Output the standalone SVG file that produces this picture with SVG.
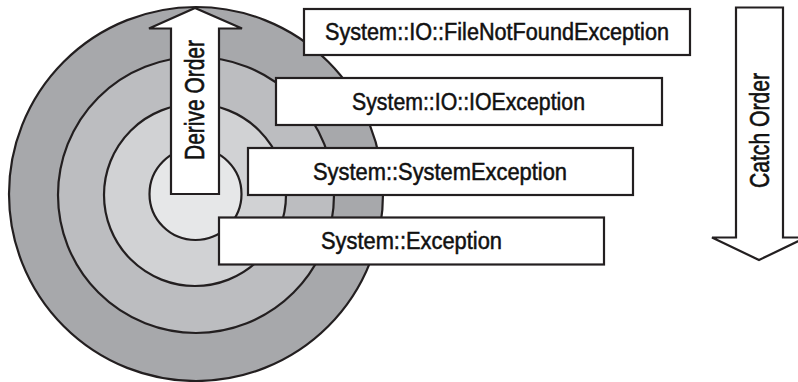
<svg xmlns="http://www.w3.org/2000/svg" width="798" height="382" viewBox="0 0 798 382">
<style>
.ring{stroke:#231f20;stroke-width:2.2}
.box{fill:#fff;stroke:#231f20;stroke-width:2.2}
.arrow{fill:#fff;stroke:#231f20;stroke-width:2.2;stroke-linejoin:miter}
.lbl{font-family:"Liberation Sans",Arial,sans-serif;font-size:23px;fill:#111;stroke:#111;stroke-width:0.5;text-anchor:middle}
.vlbl{font-family:"Liberation Sans",Arial,sans-serif;font-size:27px;fill:#111;stroke:#111;stroke-width:0.6;text-anchor:middle}
</style>
<rect width="798" height="382" fill="#fff"/>
<g id="rings">
<circle class="ring" cx="196" cy="194" r="187" fill="#a7a8ab"/>
<circle class="ring" cx="196" cy="195" r="138" fill="#bcbdc0"/>
<circle class="ring" cx="195" cy="195" r="91" fill="#d1d2d4"/>
<circle class="ring" cx="195.5" cy="194" r="46" fill="#e6e7e8"/>
</g>
<g id="connectors">
<g id="derive-order">
<polygon class="arrow" points="171,194 171,28.5 149,28.5 195,8 242,28.5 219,28.5 219,194"/>
<text class="vlbl" transform="translate(204,100) rotate(-90)" textLength="120" lengthAdjust="spacingAndGlyphs">Derive Order</text>
</g>
<g id="catch-order">
<polygon class="arrow" points="736,7.5 783,7.5 783,237.5 806,237.5 759,260 712,237.5 736,237.5"/>
<text class="vlbl" transform="translate(769,130.5) rotate(-90)" textLength="115" lengthAdjust="spacingAndGlyphs">Catch Order</text>
</g>
</g>
<g id="node-exception">
<rect class="box" x="219" y="217.5" width="385" height="47"/>
<text class="lbl" x="411.5" y="249" textLength="181" lengthAdjust="spacingAndGlyphs">System::Exception</text>
</g>
<g id="node-systemexception">
<rect class="box" x="248" y="148" width="385" height="47"/>
<text class="lbl" x="440" y="180" textLength="254" lengthAdjust="spacingAndGlyphs">System::SystemException</text>
</g>
<g id="node-ioexception">
<rect class="box" x="276" y="78" width="386" height="47"/>
<text class="lbl" x="468.5" y="110" textLength="233" lengthAdjust="spacingAndGlyphs">System::IO::IOException</text>
</g>
<g id="node-filenotfound">
<rect class="box" x="304" y="9" width="386" height="46"/>
<text class="lbl" x="497" y="39.5" textLength="344" lengthAdjust="spacingAndGlyphs">System::IO::FileNotFoundException</text>
</g>
</svg>
